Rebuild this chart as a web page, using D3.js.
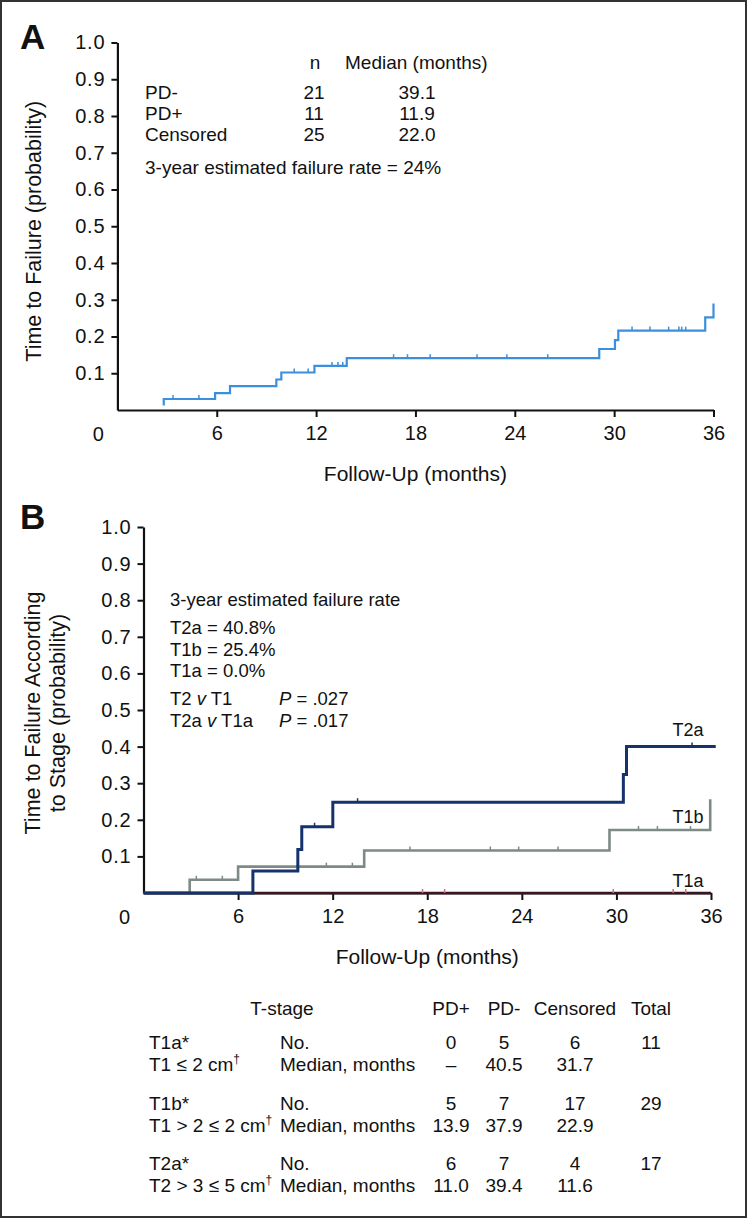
<!DOCTYPE html>
<html>
<head>
<meta charset="utf-8">
<script src="https://cdn.jsdelivr.net/npm/d3@7"></script>
<style>
  html, body { margin: 0; padding: 0; background: #fff; }
  svg { display: block; }
  text, tspan { font-family: "Liberation Sans", Arial, Helvetica, sans-serif; fill: #111; }
</style>
</head>
<body>
<svg id="chart" width="747" height="1218"></svg>
<script>
// ---------- DATA ----------
const monthTicks = [6, 12, 18, 24, 30, 36];
const probTicks = [0.1, 0.2, 0.3, 0.4, 0.5, 0.6, 0.7, 0.8, 0.9, 1.0];

// Panel A: overall cumulative failure (step points)
const aTimes  = [2.8, 2.8, 5.9, 6.8, 9.6, 9.9, 11.9, 13.85, 29.1, 30.05, 30.25, 35.5, 36.0];
const aValues = [0.012, 0.03, 0.046, 0.065, 0.083, 0.102, 0.120, 0.141, 0.166, 0.19, 0.216, 0.252, 0.29];
const aCensor = [3.36, 4.92, 10.68, 11.52, 12.96, 13.32, 13.61, 16.68, 17.52, 18.89, 21.72, 23.52, 25.99, 31.08, 32.16, 33.29, 33.91, 34.08, 34.32];

const groupsA = ["PD-", "PD+", "Censored"];
const nA = [21, 11, 25];
const medianA = ["39.1", "11.9", "22.0"];
const rateA = "3-year estimated failure rate = 24%";

// Panel B: by stage
const t2aTimes  = [0, 6.94, 9.79, 10.04, 12.01, 30.44, 30.64, 36.3];
const t2aValues = [0, 0.060, 0.119, 0.181, 0.248, 0.324, 0.400, 0.400];
const t2aCensor = [10.85, 13.58, 34.8];

const t1bTimes  = [0, 2.93, 6.0, 14.0, 29.56, 35.95];
const t1bValues = [0, 0.036, 0.072, 0.116, 0.172, 0.256];
const t1bCensor = [3.35, 5.0, 11.6, 13.25, 16.9, 22.0, 23.8, 26.3, 31.4, 32.6, 34.7];

const t1aTimes  = [0, 36];
const t1aValues = [0, 0];
const t1aCensor = [17.7, 19.1, 29.8, 33.6, 34.4];

const stagesB = ["T2a", "T1b", "T1a"];
const ratesB = ["40.8%", "25.4%", "0.0%"];
const compsB = [["T2", "T1"], ["T2a", "T1a"]];
const pValsB = [".027", ".017"];

// Table
const tableHeader = ["T-stage", "PD+", "PD-", "Censored", "Total"];
const stageCodes = ["T1a*", "T1b*", "T2a*"];
const stageDefs = ["T1 \u2264 2 cm", "T1 > 2 \u2264 2 cm", "T2 > 3 \u2264 5 cm"];
const noPDplus = [0, 5, 6];
const noPDminus = [5, 7, 7];
const noCens = [6, 17, 4];
const totals = [11, 29, 17];
const medPDplus = ["\u2013", "13.9", "11.0"];
const medPDminus = ["40.5", "37.9", "39.4"];
const medCens = ["31.7", "22.9", "11.6"];

// ---------- DRAW ----------
const svg = d3.select("#chart");

svg.append("rect").attr("x", 1).attr("y", 1).attr("width", 745).attr("height", 1216)
  .attr("fill", "none").attr("stroke", "#333").attr("stroke-width", 2);

function drawAxes(x, y) {
  const gx = svg.append("g").attr("transform", `translate(0,${y(0)})`)
    .call(d3.axisBottom(x).tickValues(monthTicks).tickSize(7).tickSizeOuter(0).tickPadding(9).tickFormat(d3.format("d")));
  gx.select(".domain").attr("stroke", "#111").attr("stroke-width", 2.2);
  gx.selectAll(".tick line").attr("stroke", "#111").attr("stroke-width", 2);
  gx.selectAll(".tick text").attr("font-size", 20).attr("fill", "#111")
    .attr("font-family", "Liberation Sans, Arial, sans-serif");

  const gy = svg.append("g").attr("transform", `translate(${x(0)},0)`)
    .call(d3.axisLeft(y).tickValues(probTicks).tickSize(6).tickSizeOuter(0).tickPadding(6).tickFormat(d3.format(".1f")));
  gy.select(".domain").attr("stroke", "#111").attr("stroke-width", 2.2);
  gy.selectAll(".tick line").attr("stroke", "#111").attr("stroke-width", 2);
  gy.selectAll(".tick text").attr("font-size", 20).attr("fill", "#111")
    .attr("letter-spacing", 0.8)
    .attr("font-family", "Liberation Sans, Arial, sans-serif");

  svg.append("text").attr("x", x(0) - 19).attr("y", y(0) + 31)
    .attr("text-anchor", "middle").attr("font-size", 20).text("0");

  svg.append("text").attr("x", (x(0) + x(36)) / 2).attr("y", y(0) + 71)
    .attr("text-anchor", "middle").attr("font-size", 21).text("Follow-Up (months)");
}

function stepLine(x, y, times, values) {
  return d3.line().x((d, i) => x(times[i])).y((d, i) => y(values[i])).curve(d3.curveStepAfter)(times);
}
function valueAt(times, values, t) {
  let v = values[0];
  for (let i = 0; i < times.length; i++) if (times[i] <= t) v = values[i];
  return v;
}
function drawCensor(x, y, times, values, cens, color, w) {
  svg.append("g").selectAll("line").data(cens).join("line")
    .attr("x1", d => x(d)).attr("x2", d => x(d))
    .attr("y1", d => y(valueAt(times, values, d)))
    .attr("y2", d => y(valueAt(times, values, d)) - 4)
    .attr("stroke", color).attr("stroke-width", w);
}

// ===== Panel A =====
const xA = d3.scaleLinear().domain([0, 36]).range([117.4, 713.5]);
const yA = d3.scaleLinear().domain([0, 1]).range([410, 42.5]);

svg.append("text").attr("x", 20).attr("y", 49).attr("font-size", 35).attr("font-weight", "bold").text("A");
drawAxes(xA, yA);
svg.append("text").attr("transform", `translate(41,${(yA(0) + yA(1)) / 2 + 5}) rotate(-90)`)
  .attr("text-anchor", "middle").attr("font-size", 21.5).text("Time to Failure (probability)");

svg.append("path").attr("d", stepLine(xA, yA, aTimes, aValues))
  .attr("fill", "none").attr("stroke", "#3b8fdc").attr("stroke-width", 2.2);
drawCensor(xA, yA, aTimes, aValues, aCensor, "#3b8fdc", 1.5);

svg.append("text").attr("x", 315).attr("y", 69).attr("text-anchor", "middle").attr("font-size", 19).text("n");
svg.append("text").attr("x", 345).attr("y", 69).attr("font-size", 19).text("Median (months)");
groupsA.forEach((g, i) => {
  const yy = [98.5, 120, 141][i];
  svg.append("text").attr("x", 145).attr("y", yy).attr("font-size", 19).text(g);
  svg.append("text").attr("x", 314).attr("y", yy).attr("text-anchor", "middle").attr("font-size", 19).text(nA[i]);
  svg.append("text").attr("x", 417).attr("y", yy).attr("text-anchor", "middle").attr("font-size", 19).text(medianA[i]);
});
svg.append("text").attr("x", 145).attr("y", 174).attr("font-size", 19).text(rateA);

// ===== Panel B =====
const xB = d3.scaleLinear().domain([0, 36]).range([143.5, 711]);
const yB = d3.scaleLinear().domain([0, 1]).range([893, 527]);

svg.append("text").attr("x", 20).attr("y", 529).attr("font-size", 35).attr("font-weight", "bold").text("B");
drawAxes(xB, yB);
const yTitleB = svg.append("text").attr("transform", `translate(40,${(yB(0) + yB(1)) / 2 + 3}) rotate(-90)`)
  .attr("text-anchor", "middle").attr("font-size", 21.5);
yTitleB.append("tspan").attr("x", 0).attr("dy", 0).text("Time to Failure According");
yTitleB.append("tspan").attr("x", 0).attr("dy", 25).text("to Stage (probability)");

svg.append("path").attr("d", stepLine(xB, yB, t1bTimes, t1bValues))
  .attr("fill", "none").attr("stroke", "#7d8a85").attr("stroke-width", 2.6);
drawCensor(xB, yB, t1bTimes, t1bValues, t1bCensor, "#7d8a85", 1.5);
svg.append("path").attr("d", stepLine(xB, yB, t1aTimes, t1aValues))
  .attr("fill", "none").attr("stroke", "#3a1420").attr("stroke-width", 2.6);
drawCensor(xB, yB, t1aTimes, t1aValues, t1aCensor, "#d07080", 1.5);
svg.append("path").attr("d", stepLine(xB, yB, t2aTimes, t2aValues))
  .attr("fill", "none").attr("stroke", "#15326a").attr("stroke-width", 3);
drawCensor(xB, yB, t2aTimes, t2aValues, t2aCensor, "#15326a", 1.5);

const labelY = [736, 823, 887];
stagesB.forEach((s, i) => {
  svg.append("text").attr("x", 688).attr("y", labelY[i]).attr("text-anchor", "middle").attr("font-size", 18).text(s);
});

svg.append("text").attr("x", 170).attr("y", 606).attr("font-size", 18.5).text("3-year estimated failure rate");
stagesB.forEach((s, i) => {
  svg.append("text").attr("x", 170).attr("y", 634 + i * 21.5).attr("font-size", 18.5).text(`${s} = ${ratesB[i]}`);
});
compsB.forEach((c, i) => {
  const yy = 705 + i * 22;
  const t = svg.append("text").attr("x", 170).attr("y", yy).attr("font-size", 18.5);
  t.append("tspan").text(c[0] + " ");
  t.append("tspan").attr("font-style", "italic").text("v");
  t.append("tspan").text(" " + c[1]);
  const p = svg.append("text").attr("x", 279).attr("y", yy).attr("font-size", 18.5);
  p.append("tspan").attr("font-style", "italic").text("P");
  p.append("tspan").text(" = " + pValsB[i]);
});

// ===== Table =====
const colX = [282, 451, 504, 575, 651];
const tfs = 19;
tableHeader.forEach((h, i) => {
  svg.append("text").attr("x", colX[i]).attr("y", 1015).attr("text-anchor", "middle").attr("font-size", tfs).text(h);
});
stageCodes.forEach((code, i) => {
  const y1 = 1049 + i * 60.5, y2 = y1 + 22;
  svg.append("text").attr("x", 149).attr("y", y1).attr("font-size", tfs).text(code);
  const d = svg.append("text").attr("x", 149).attr("y", y2).attr("font-size", tfs);
  d.append("tspan").text(stageDefs[i]);
  d.append("tspan").attr("font-size", 12).attr("dy", -8).attr("fill", "#111")
    .attr("font-family", "DejaVu Sans, sans-serif").text("\u2020");
  svg.append("text").attr("x", 280).attr("y", y1).attr("font-size", tfs).text("No.");
  svg.append("text").attr("x", 280).attr("y", y2).attr("font-size", tfs).text("Median, months");
  [noPDplus[i], noPDminus[i], noCens[i], totals[i]].forEach((v, j) => {
    svg.append("text").attr("x", colX[j + 1]).attr("y", y1).attr("text-anchor", "middle").attr("font-size", tfs).text(v);
  });
  [medPDplus[i], medPDminus[i], medCens[i]].forEach((v, j) => {
    svg.append("text").attr("x", colX[j + 1]).attr("y", y2).attr("text-anchor", "middle").attr("font-size", tfs).text(v);
  });
});
</script>
</body>
</html>
